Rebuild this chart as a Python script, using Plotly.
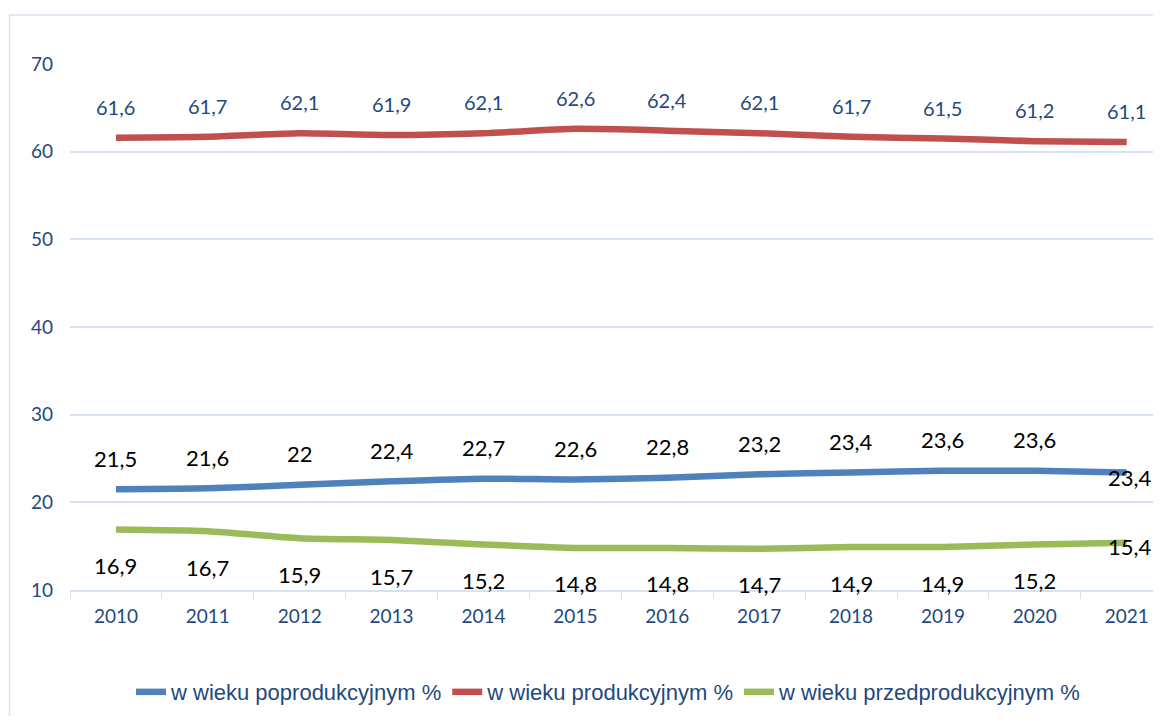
import plotly.graph_objects as go

years = [str(y) for y in range(2010, 2022)]
poprodukcyjny = [21.5, 21.6, 22.0, 22.4, 22.7, 22.6, 22.8, 23.2, 23.4, 23.6, 23.6, 23.4]
produkcyjny = [61.6, 61.7, 62.1, 61.9, 62.1, 62.6, 62.4, 62.1, 61.7, 61.5, 61.2, 61.1]
przedprodukcyjny = [16.9, 16.7, 15.9, 15.7, 15.2, 14.8, 14.8, 14.7, 14.9, 14.9, 15.2, 15.4]

names = ["w wieku poprodukcyjnym %", "w wieku produkcyjnym %", "w wieku przedprodukcyjnym %"]
colors = ["#4F81BD", "#C0504D", "#9BBB59"]
textBlue = "#1F497D"
gridColor = "#D6E2F2"
font = "Lato"


def fmt(v):
    s = ("%.1f" % v).replace(".", ",")
    return s[:-2] if s.endswith(",0") else s


fig = go.Figure()
for name, vals, col in zip(names, [poprodukcyjny, produkcyjny, przedprodukcyjny], colors):
    fig.add_trace(go.Scatter(x=years, y=vals, name=name, mode="lines",
                             line={"color": col, "width": 6.5, "shape": "spline", "smoothing": 0.6}))

last = len(years) - 1
# produkcyjny labels above, dark blue
for i, v in enumerate(produkcyjny):
    fig.add_annotation(x=i, y=v, xref="x", yref="y", text=fmt(v), showarrow=False, yshift=31,
                       font={"size": 20, "color": textBlue, "family": font})
# poprodukcyjny labels above (last at right), black
for i, v in enumerate(poprodukcyjny):
    if i == last:
        fig.add_annotation(x=i, y=v, xref="x", yref="y", text=fmt(v), showarrow=False, xanchor="left",
                           xshift=-21, yshift=-5, font={"size": 22, "color": "black", "family": font})
    else:
        fig.add_annotation(x=i, y=v, xref="x", yref="y", text=fmt(v), showarrow=False, yshift=31,
                           font={"size": 22, "color": "black", "family": font})
# przedprodukcyjny labels below (last at right), black
for i, v in enumerate(przedprodukcyjny):
    if i == last:
        fig.add_annotation(x=i, y=v, xref="x", yref="y", text=fmt(v), showarrow=False, xanchor="left",
                           xshift=-21, yshift=-4, font={"size": 22, "color": "black", "family": font})
    else:
        fig.add_annotation(x=i, y=v, xref="x", yref="y", text=fmt(v), showarrow=False, yshift=-36,
                           font={"size": 22, "color": "black", "family": font})

fig.update_layout(
    width=1161, height=708,
    margin={"l": 62, "r": 0, "t": 56, "b": 126},
    plot_bgcolor="white", paper_bgcolor="white",
    font={"family": font, "color": textBlue, "size": 19},
    showlegend=True,
    legend={"orientation": "h", "x": 0.49, "xanchor": "center", "y": -0.194, "yanchor": "middle",
            "font": {"size": 22, "color": textBlue, "family": "Liberation Sans"},
            "itemwidth": 30, "tracegroupgap": 0},
    xaxis={"type": "category", "range": [-0.5, 11.46], "showgrid": False,
           "showline": True, "linecolor": gridColor, "linewidth": 1.5,
           "ticks": "outside", "tickson": "boundaries", "ticklen": 7, "tickcolor": gridColor,
           "ticklabelstandoff": 8,
           "tickfont": {"size": 19, "color": textBlue, "family": font}},
    yaxis={"range": [10, 70], "tickvals": [10, 20, 30, 40, 50, 60, 70], "showgrid": True,
           "gridcolor": gridColor, "gridwidth": 1.5, "zeroline": False, "ticks": "",
           "ticklabelstandoff": 16,
           "tickfont": {"size": 19, "color": textBlue, "family": font}},
    shapes=[{"type": "rect", "xref": "paper", "yref": "paper", "x0": -0.055, "x1": 1.05,
             "y0": -0.4, "y1": 1.093, "line": {"color": gridColor, "width": 1.5}, "layer": "below"}],
)

fig.write_html("out.html")
